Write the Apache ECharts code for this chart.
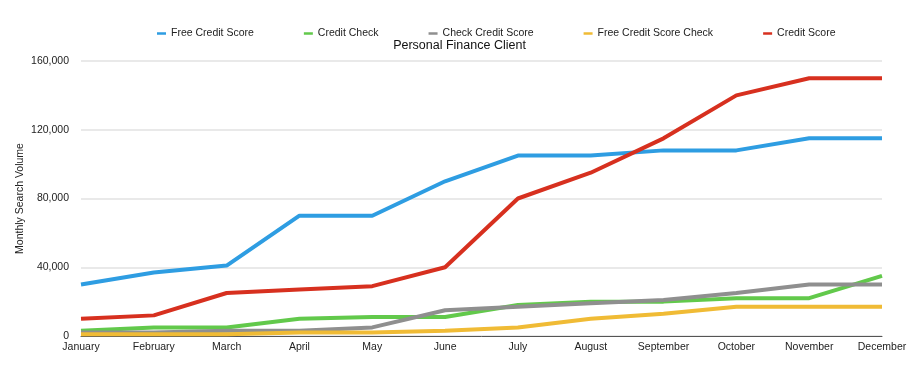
<!DOCTYPE html>
<html>
<head>
<meta charset="utf-8">
<script src="https://cdn.jsdelivr.net/npm/echarts@6/dist/echarts.min.js"></script>
<style>
html,body{margin:0;padding:0;background:#fff;}
#chart{width:919px;height:369px;}
</style>
</head>
<body>
<div id="chart"></div>
<script>
var months = ["January","February","March","April","May","June","July","August","September","October","November","December"];
var yTicks = [0, 40000, 80000, 120000, 160000];
var freeCreditScore = [30000, 37000, 41000, 70000, 70000, 90000, 105000, 105000, 108000, 108000, 115000, 115000];
var creditCheck = [3000, 5000, 5000, 10000, 11000, 11000, 18000, 20000, 20000, 22000, 22000, 35000];
var checkCreditScore = [2000, 2000, 3000, 3000, 5000, 15000, 17000, 19000, 21000, 25000, 30000, 30000];
var freeCreditScoreCheck = [1000, 1000, 1000, 2000, 2000, 3000, 5000, 10000, 13000, 17000, 17000, 17000];
var creditScore = [10000, 12000, 25000, 27000, 29000, 40000, 80000, 95000, 115000, 140000, 150000, 150000];

var seriesNames = ["Free Credit Score","Credit Check","Check Credit Score","Free Credit Score Check","Credit Score"];
var seriesData = [freeCreditScore, creditCheck, checkCreditScore, freeCreditScoreCheck, creditScore];
var colors = ["#2e9de2","#62c94b","#8f8f8f","#f0bb35","#d7301f"];
var font = "'Liberation Sans', Arial, Helvetica, sans-serif";

var chart = echarts.init(document.getElementById('chart'), null, {renderer:'canvas'});
chart.setOption({
  animation:false,
  color: colors,
  textStyle:{fontFamily:font},
  title:{
    text:"Personal Finance Client",
    left:'center', top:34,
    textStyle:{fontSize:12.5, fontWeight:'normal', color:'#111', fontFamily:font}
  },
  legend:{
    top:23, left:152,
    icon:'rect', itemWidth:9, itemHeight:2.5, itemGap:50,
    textStyle:{fontSize:10.5, color:'#222', fontFamily:font},
    data: seriesNames
  },
  grid:{left:81, right:37, top:61, bottom:33, containLabel:false},
  xAxis:{
    type:'category', data: months, boundaryGap:false,
    axisLine:{show:true, lineStyle:{color:'#555', width:1}},
    axisTick:{show:false},
    axisLabel:{fontSize:10.5, color:'#222', margin:6, interval:0, fontFamily:font},
    splitLine:{show:false}
  },
  yAxis:{
    type:'value', min:yTicks[0], max:yTicks[yTicks.length-1], interval:40000,
    name:"Monthly Search Volume", nameLocation:'middle', nameGap:55, nameRotate:90,
    nameMoveOverlap:false,
    nameTextStyle:{fontSize:10.5, color:'#222', fontFamily:font},
    axisLine:{show:false}, axisTick:{show:false},
    axisLabel:{fontSize:10.5, color:'#222', margin:12, fontFamily:font,
      formatter:function(v){return v.toLocaleString('en-US');}},
    splitLine:{show:true, lineStyle:{color:'#e2e2e2', width:1.5}}
  },
  series: seriesNames.map(function(n,i){
    return {name:n, type:'line', data:seriesData[i], symbol:'none', showSymbol:false,
      lineStyle:{width:4, color:colors[i]}, itemStyle:{color:colors[i]}, z: 2};
  })
});
</script>
</body>
</html>
